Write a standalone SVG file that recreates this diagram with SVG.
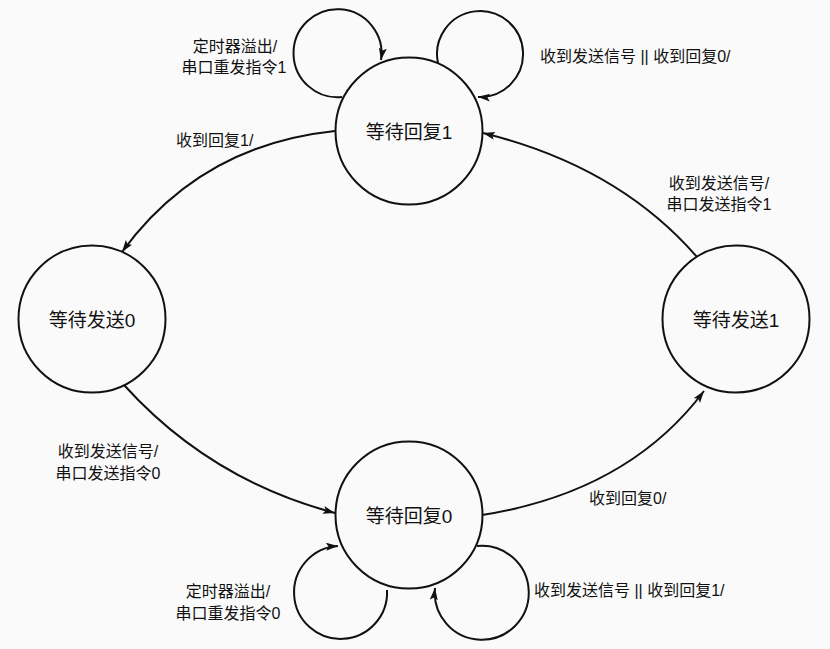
<svg xmlns="http://www.w3.org/2000/svg" width="830" height="649" viewBox="0 0 830 649">
  <style>
    .node { fill: none; stroke: #111; stroke-width: 2; }
    .edge { fill: none; stroke: #111; stroke-width: 2; marker-end: url(#arrow); }
    .nlabel { font-family: "Liberation Sans", "Noto Sans CJK SC", sans-serif; font-size: 19px; fill: #111; text-anchor: middle; }
    .elabel { font-family: "Liberation Sans", "Noto Sans CJK SC", sans-serif; font-size: 16px; fill: #111; }
    .mid { text-anchor: middle; }
  </style>
  <defs>
    <marker id="arrow" markerUnits="userSpaceOnUse" markerWidth="13" markerHeight="9" refX="12" refY="4" orient="auto">
      <path d="M0,0 L12,4 L0,8 L2.5,4 z" fill="#111"/>
    </marker>
  </defs>
  <rect x="0" y="0" width="830" height="649" fill="#fafafa"/>

  <g id="connectors">
    <!-- 等待回复1 -> 等待发送0 -->
    <path class="edge" d="M335,131 Q200,145 122,252"/>
    <!-- 等待发送0 -> 等待回复0 -->
    <path class="edge" d="M124,385 Q210,480 335,513"/>
    <!-- 等待回复0 -> 等待发送1 -->
    <path class="edge" d="M482,515 Q628,492 704,391"/>
    <!-- 等待发送1 -> 等待回复1 -->
    <path class="edge" d="M697,257 Q618,166 483,133"/>
    <!-- self loops -->
    <path class="edge" d="M342,97 A44,44 0 1 1 381,60"/>
    <path class="edge" d="M438,63 A43,43 0 1 1 478,97"/>
    <path class="edge" d="M387,590 A46.5,46.5 0 1 1 338,546"/>
    <path class="edge" d="M477,546 A47,47 0 1 1 435,588"/>

    <text class="elabel mid" x="235" y="52">定时器溢出/</text>
    <text class="elabel mid" x="234" y="73">串口重发指令1</text>
    <text class="elabel" x="540" y="62">收到发送信号 || 收到回复0/</text>
    <text class="elabel" x="176" y="146">收到回复1/</text>
    <text class="elabel mid" x="719" y="189">收到发送信号/</text>
    <text class="elabel mid" x="719" y="210">串口发送指令1</text>
    <text class="elabel mid" x="108" y="457">收到发送信号/</text>
    <text class="elabel mid" x="108" y="479">串口发送指令0</text>
    <text class="elabel" x="589" y="504">收到回复0/</text>
    <text class="elabel mid" x="228" y="597">定时器溢出/</text>
    <text class="elabel mid" x="228" y="619">串口重发指令0</text>
    <text class="elabel" x="534" y="596">收到发送信号 || 收到回复1/</text>
  </g>

  <g id="node-wait-reply1">
    <circle class="node" cx="409" cy="131" r="73.5"/>
    <text class="nlabel" x="409" y="139">等待回复1</text>
  </g>
  <g id="node-wait-send0">
    <circle class="node" cx="92" cy="319" r="73.5"/>
    <text class="nlabel" x="92" y="327">等待发送0</text>
  </g>
  <g id="node-wait-reply0">
    <circle class="node" cx="409" cy="515" r="73.5"/>
    <text class="nlabel" x="409" y="523">等待回复0</text>
  </g>
  <g id="node-wait-send1">
    <circle class="node" cx="736" cy="319" r="73.5"/>
    <text class="nlabel" x="736" y="327">等待发送1</text>
  </g>
</svg>
